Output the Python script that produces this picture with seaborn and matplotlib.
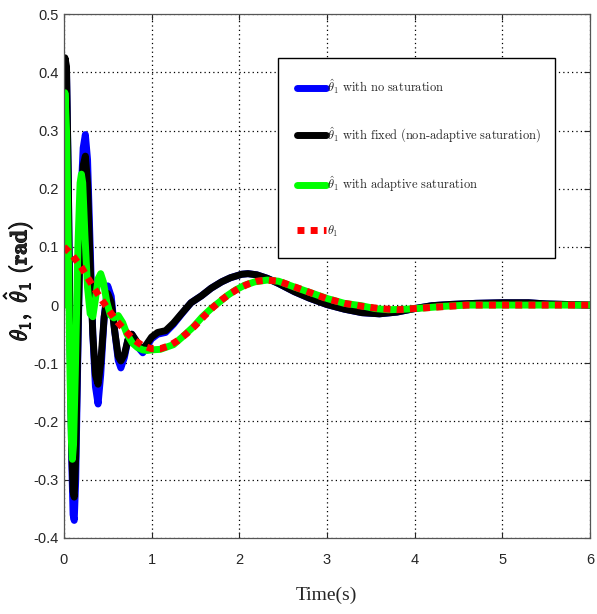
import matplotlib
matplotlib.use("Agg")
import matplotlib.pyplot as plt
import matplotlib.patheffects as pe
import pandas as pd
import seaborn as sns

# time axes and values
t_fast = [0, 0.012, 0.03, 0.05, 0.07, 0.09, 0.105, 0.118, 0.135, 0.16, 0.19, 0.22, 0.245, 0.27,
          0.30, 0.33, 0.36, 0.39, 0.42, 0.46, 0.50, 0.54, 0.58, 0.62, 0.65, 0.69, 0.73, 0.775,
          0.82, 0.86, 0.90, 0.95, 1.0, 1.07, 1.16, 1.25, 1.34, 1.45, 1.57, 1.68, 1.8, 1.9, 2.03,
          2.1, 2.2, 2.32, 2.45, 2.63, 2.8, 3.0, 3.2, 3.4, 3.6, 3.8, 4.0, 4.2, 4.4, 4.7, 5.0,
          5.3, 5.5, 6.0]
no_sat = [0, 0.42, 0.40, 0.22, -0.05, -0.27, -0.36, -0.37, -0.30, -0.08, 0.17, 0.27, 0.293, 0.25,
          0.10, -0.05, -0.14, -0.17, -0.12, -0.02, 0.033, 0.015, -0.045, -0.095, -0.108, -0.09,
          -0.06, -0.05, -0.062, -0.075, -0.082, -0.07, -0.058, -0.05, -0.047, -0.033, -0.016,
          0.004, 0.016, 0.029, 0.04, 0.047, 0.053, 0.054, 0.052, 0.046, 0.037, 0.023, 0.012,
          0.001, -0.007, -0.013, -0.015, -0.012, -0.006, -0.001, 0.001, 0.003, 0.004, 0.004,
          0.002, 0.0]
fixed_sat = [0, 0.425, 0.41, 0.22, -0.05, -0.25, -0.32, -0.33, -0.26, -0.06, 0.15, 0.24, 0.256,
             0.21, 0.07, -0.05, -0.12, -0.136, -0.10, -0.02, 0.02, 0.005, -0.045, -0.088, -0.096,
             -0.085, -0.06, -0.05, -0.06, -0.07, -0.076, -0.066, -0.055, -0.047, -0.044, -0.031,
             -0.015, 0.004, 0.016, 0.029, 0.04, 0.047, 0.053, 0.054, 0.052, 0.046, 0.037, 0.023,
             0.012, 0.001, -0.007, -0.013, -0.015, -0.012, -0.006, -0.001, 0.001, 0.003, 0.004,
             0.004, 0.002, 0.0]

t_adapt = [0, 0.005, 0.012, 0.03, 0.05, 0.07, 0.085, 0.097, 0.11, 0.13, 0.16, 0.185, 0.2, 0.215,
           0.24, 0.27, 0.3, 0.33, 0.36, 0.39, 0.42, 0.45, 0.49, 0.53, 0.57, 0.62, 0.67, 0.72,
           0.78, 0.84, 0.9, 0.95, 1.0, 1.1, 1.25, 1.35, 1.48, 1.58, 1.68, 1.78, 1.87, 1.96, 2.06,
           2.18, 2.32, 2.45, 2.63, 2.82, 3.01, 3.2, 3.39, 3.55, 3.7, 3.9, 4.1, 4.35, 4.6, 5.0, 6.0]
adapt_sat = [0, 0.2, 0.365, 0.30, 0.10, -0.12, -0.23, -0.265, -0.24, -0.12, 0.10, 0.21, 0.225,
             0.21, 0.12, 0.03, -0.015, -0.02, 0.01, 0.045, 0.054, 0.04, 0.005, -0.017, -0.022,
             -0.018, -0.03, -0.05, -0.065, -0.073, -0.077, -0.078, -0.077, -0.076, -0.068,
             -0.055, -0.037, -0.02, -0.006, 0.006, 0.017, 0.026, 0.034, 0.04, 0.043, 0.041,
             0.031, 0.021, 0.011, 0.003, -0.001, -0.006, -0.008, -0.007, -0.005, -0.002, 0.0,
             0.0, 0.0]

t_true = [0, 0.1, 0.2, 0.3, 0.4, 0.5, 0.6, 0.7, 0.8, 0.9, 1.0, 1.1, 1.2, 1.3, 1.4, 1.5, 1.6,
          1.7, 1.8, 1.9, 2.0, 2.1, 2.2, 2.32, 2.45, 2.6, 2.8, 3.0, 3.2, 3.4, 3.6, 3.8, 4.0,
          4.3, 4.6, 5.0, 5.5, 6.0]
theta1 = [0.1, 0.085, 0.065, 0.04, 0.016, -0.006, -0.027, -0.044, -0.06, -0.07, -0.075, -0.075,
          -0.07, -0.061, -0.049, -0.035, -0.019, -0.004, 0.009, 0.02, 0.029, 0.036, 0.041,
          0.043, 0.041, 0.033, 0.022, 0.011, 0.003, -0.002, -0.006, -0.008, -0.006, -0.003,
          0.0, 0.0, 0.0, 0.0]

labels = [r"$\hat{\theta}_1\ \mathrm{with\ no\ saturation}$",
          r"$\hat{\theta}_1\ \mathrm{with\ fixed\ (non\text{-}adaptive\ saturation)}$",
          r"$\hat{\theta}_1\ \mathrm{with\ adaptive\ saturation}$",
          r"$\theta_1$"]
x_ticks = [0, 1, 2, 3, 4, 5, 6]
y_ticks = [-0.4, -0.3, -0.2, -0.1, 0, 0.1, 0.2, 0.3, 0.4, 0.5]

sns.set_style("ticks")
plt.rcParams["font.family"] = ["Liberation Sans", "DejaVu Sans"]
plt.rcParams["mathtext.fontset"] = "cm"
plt.rcParams["axes.unicode_minus"] = False

fig = plt.figure(figsize=(5.97, 6.14), dpi=100)
ax = fig.add_axes([0.107, 0.124, 0.881, 0.853])

series = [
    (t_fast, no_sat, "#0000ff", "-"),
    (t_fast, fixed_sat, "#000000", "-"),
    (t_adapt, adapt_sat, "#00ff00", "-"),
    (t_true, theta1, "#ff0000", (0, (1.0, 0.9))),
]
for (t, y, c, ls), lab in zip(series, labels):
    df = pd.DataFrame({"t": t, "y": y})
    sns.lineplot(data=df, x="t", y="y", color=c, lw=5, linestyle=ls, label=lab,
                 sort=False, estimator=None, ax=ax)

ax.set_xlim(0, 6)
ax.set_ylim(-0.4, 0.5)
ax.set_xticks(x_ticks)
ax.set_yticks(y_ticks)
ax.set_xticklabels([str(v) for v in x_ticks])
ax.set_yticklabels(["0" if v == 0 else f"{v:g}" for v in y_ticks])
ax.tick_params(direction="in", top=True, right=True, length=4, labelsize=10.5)
ax.tick_params(axis="x", pad=11)
ax.tick_params(axis="y", pad=4)
ax.grid(True, color="black", linestyle=(0, (1, 2.5)), lw=0.9)
for s in ax.spines.values():
    s.set_color("#555555")
    s.set_linewidth(0.9)

ax.set_xlabel("Time(s)", family="Liberation Serif", fontsize=14, labelpad=14)
ax.set_ylabel(r"$\theta_1,\ \hat{\theta}_1\ \mathbf{(rad)}$", fontsize=17,
              path_effects=[pe.withStroke(linewidth=0.8, foreground="black")])
ax.yaxis.set_label_coords(-0.055, 0.49)

leg = ax.legend(loc="upper left", bbox_to_anchor=(0.407, 0.916, 0.526, 0.0), mode="expand",
                fontsize=9, frameon=True, fancybox=False, framealpha=1, edgecolor="black",
                handlelength=2.3, handletextpad=0.1, labelspacing=2.35,
                borderpad=1.55, borderaxespad=0)
leg.get_frame().set_linewidth(1.0)

fig.savefig("out.png", dpi=100)
